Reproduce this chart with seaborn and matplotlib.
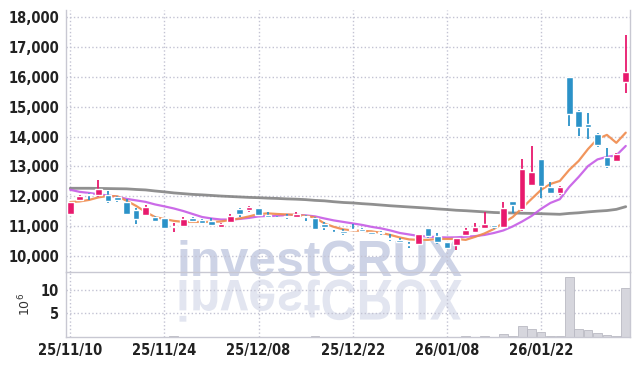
import numpy as np
import matplotlib
matplotlib.use('Agg')
import matplotlib.pyplot as plt
import seaborn as sns
from matplotlib import font_manager as fm
from matplotlib.textpath import TextPath
from matplotlib.patches import PathPatch
from matplotlib.font_manager import FontProperties
from matplotlib.transforms import Affine2D, IdentityTransform
from matplotlib.ticker import FuncFormatter

# daily candles (trading days from 25/11/10)
opens = [11420, 11890, 12090, 12030, 12045, 11990, 11800, 11545, 11360, 11320,
         11280, 10980, 11020, 11290, 11210, 11180, 10990, 11130, 11580, 11545,
         11600, 11390, 11320, 11355, 11320, 11345, 11260, 11070, 10820, 10845,
         10910, 10900, 10800, 10800, 10600, 10555, 10400, 10410, 10935, 10690,
         10465, 10360, 10700, 10820, 10925, 11045, 10990, 11845, 11570, 12395,
         13250, 12310, 12125, 15985, 14850, 14410, 14085, 13310, 13195, 15815]
closes = [11800, 12010, 12040, 12250, 11830, 11880, 11400, 11250, 11635, 11190,
          10940, 11010, 11245, 11180, 11120, 11050, 11070, 11355, 11410, 11645,
          11360, 11320, 11275, 11300, 11410, 11300, 10920, 10990, 10770, 10790,
          10870, 10850, 10740, 10760, 10575, 10465, 10370, 10735, 10690, 10490,
          10265, 10600, 10860, 10970, 11080, 10990, 11600, 11725, 12910, 12810,
          12330, 12120, 12325, 14760, 14330, 14330, 13720, 13000, 13420, 16150]
highs = [11810, 12030, 12100, 12550, 12180, 12020, 11920, 11600, 11710, 11330,
         11290, 11100, 11320, 11310, 11240, 11270, 11100, 11400, 11600, 11690,
         11620, 11460, 11330, 11420, 11460, 11390, 11310, 11140, 10860, 10900,
         11070, 10940, 10820, 10850, 10735, 10600, 10465, 10750, 10950, 10790,
         10480, 10620, 10950, 11100, 11490, 11050, 11825, 11860, 13245, 13685,
         13260, 12480, 12340, 16000, 14880, 14780, 14120, 13610, 13440, 17400]
lows = [11410, 11850, 11880, 11990, 11770, 11810, 11390, 11070, 11350, 11130,
        10930, 10800, 11000, 11130, 11100, 11040, 10980, 11110, 11320, 11490,
        11340, 11300, 11240, 11240, 11290, 11190, 10910, 10880, 10730, 10720,
        10850, 10800, 10720, 10700, 10510, 10430, 10285, 10400, 10600, 10420,
        10260, 10210, 10690, 10800, 10900, 10900, 10950, 11455, 11520, 12350,
        11935, 12090, 12060, 14365, 14020, 13910, 13640, 12960, 13140, 15450]

ma_short = [11810, 11830, 11880, 11965, 12015, 12000, 11850, 11680, 11480, 11310,
            11240, 11180, 11145, 11145, 11145, 11145, 11160, 11210, 11260, 11330,
            11410, 11430, 11410, 11395, 11380, 11345, 11295, 11090, 10980, 10895,
            10860, 10845, 10830, 10780, 10710, 10625, 10560, 10545, 10545, 10575,
            10575, 10575, 10545, 10645, 10760, 10910, 11110, 11310, 11610, 11915,
            12215, 12415, 12515, 12885, 13185, 13585, 13920, 14055, 13790, 14130]
ma_mid = [12220, 12150, 12115, 12065, 12030, 11980, 11915, 11865, 11815, 11730,
          11665, 11595, 11510, 11410, 11310, 11260, 11225, 11225, 11245, 11280,
          11330, 11345, 11345, 11380, 11380, 11365, 11330, 11260, 11195, 11145,
          11095, 11045, 10980, 10930, 10860, 10775, 10725, 10675, 10655, 10635,
          10625, 10630, 10650, 10670, 10710, 10775, 10860, 10995, 11160, 11345,
          11580, 11780, 11905, 12315, 12650, 13015, 13235, 13320, 13370, 13685]
ma_long = [12270, 12270, 12270, 12265, 12260, 12255, 12250, 12230, 12215, 12180,
           12150, 12115, 12090, 12065, 12050, 12030, 12010, 11995, 11980, 11965,
           11955, 11940, 11930, 11915, 11905, 11890, 11865, 11850, 11820, 11795,
           11780, 11755, 11735, 11710, 11685, 11665, 11645, 11625, 11605, 11580,
           11560, 11535, 11520, 11500, 11480, 11460, 11450, 11445, 11435, 11430,
           11420, 11410, 11400, 11430, 11450, 11480, 11505, 11525, 11565, 11655]

# volume in millions
volume = [0.03, 0.03, 0.03, 0.03, 0.03, 0.03, 0.03, 0.03, 0.03, 0.03,
          0.03, 0.25, 0.03, 0.03, 0.03, 0.03, 0.03, 0.03, 0.03, 0.03,
          0.03, 0.03, 0.03, 0.03, 0.03, 0.03, 0.2, 0.03, 0.03, 0.03,
          0.03, 0.03, 0.03, 0.03, 0.03, 0.03, 0.03, 0.03, 0.03, 0.03,
          0.03, 0.03, 0.2, 0.03, 0.2, 0.05, 0.7, 0.3, 2.4, 1.6,
          1.0, 0.3, 0.3, 12.7, 1.8, 1.4, 0.8, 0.5, 0.3, 10.5]

tick_pos = [0, 10, 20, 30, 40, 50]
tick_labels = ['25/11/10', '25/11/24', '25/12/08', '25/12/22', '26/01/08', '26/01/22']

UP = '#e8196d'
DOWN = '#2b92c8'

sns.set_theme(style='white')
plt.rcParams['font.family'] = ['DejaVu Sans']


# look for a narrow bold face for the tick labels
def pick_narrow():
    best = None
    for f in fm.fontManager.ttflist:
        tag = f.name + ' ' + f.fname
        narrow = ('Narrow' in tag or 'Cond' in tag or 'Compressed' in tag
                  or 'ondensed' in str(f.stretch))
        if not narrow or f.style != 'normal':
            continue
        w = f.weight if isinstance(f.weight, int) else fm.weight_dict.get(f.weight, 400)
        score = abs(w - 700)
        if best is None or score < best[0]:
            best = (score, f.fname)
    return best[1] if best else None


narrow_file = pick_narrow()
if narrow_file:
    tick_font = FontProperties(fname=narrow_file, size=10.5)
else:
    tick_font = FontProperties(family='Liberation Sans', weight='bold', size=10)

fig = plt.figure(figsize=(6.39, 3.66), dpi=100)
ax = fig.add_axes([0.1033, 0.2568, 0.8826, 0.7158])
axv = fig.add_axes([0.1033, 0.0792, 0.8826, 0.1776], sharex=ax)
for a in (ax, axv):
    a.set_facecolor('none')

# watermark, plus its mirrored reflection under the baseline
wm_size = 36
wm_prop = FontProperties(family='Liberation Sans', weight='bold', size=wm_size)
fig.text(176 / 639, 90 / 366, 'investCRUX', fontproperties=wm_prop, color='#cdd3e6',
         ha='left', va='baseline', zorder=-1)
tp = TextPath((0, 0), 'investCRUX', prop=wm_prop, size=wm_size * 100 / 72)
tf_r = Affine2D().scale(1, -1.15).translate(176, 86)
fig.add_artist(PathPatch(tf_r.transform_path(tp), facecolor='#e2e5f0', edgecolor='none',
                         transform=IdentityTransform(), zorder=-1))

idx = np.arange(len(closes))
o = np.array(opens)
c = np.array(closes)
cols = [UP if cc >= oo else DOWN for oo, cc in zip(o, c)]
body = np.maximum(np.abs(c - o), 45)

sns.lineplot(x=idx, y=ma_long, ax=ax, color='#7d7d7d', lw=2, alpha=0.85, zorder=2)
sns.lineplot(x=idx, y=ma_mid, ax=ax, color='#c65be6', lw=1.6, alpha=0.9, zorder=2)
sns.lineplot(x=idx, y=ma_short, ax=ax, color='#f08a4b', lw=1.6, alpha=0.9, zorder=2)

ax.vlines(idx, lows, highs, colors=cols, lw=1.3, zorder=3)
ax.bar(idx, body, bottom=np.minimum(o, c), width=0.7, color=cols, zorder=4)

axv.bar(idx, volume, width=0.92, color='#d6d6dd', edgecolor='#b9b9c3', linewidth=0.6, zorder=2)

ax.set_xlim(-0.45, 59.45)
ax.set_ylim(9470, 18230)
ax.set_yticks(range(10000, 18001, 1000))
ax.yaxis.set_major_formatter(FuncFormatter(lambda v, p: f'{int(v):,}'))
axv.set_ylim(0, 13.8)
axv.set_yticks([5, 10])
axv.set_xticks(tick_pos)
axv.set_xticklabels(tick_labels)

for a in (ax, axv):
    a.grid(True, linestyle=':', color='#c3c3d3', linewidth=1)
    a.set_axisbelow(True)
    a.tick_params(length=0, pad=5, labelcolor='#222222')
    for lab in a.get_yticklabels() + a.get_xticklabels():
        lab.set_fontproperties(tick_font)
    for s in a.spines.values():
        s.set_color('#c8c8d2')
        s.set_linewidth(1)
    a.spines['top'].set_visible(False)
ax.tick_params(labelbottom=False)
axv.tick_params(axis='x', pad=4)

axv.set_ylabel(r'$10^6$', fontsize=9, family='DejaVu Sans', color='#333333')
axv.yaxis.set_label_coords(-0.058, 0.5)

fig.savefig('out.png', dpi=100)
